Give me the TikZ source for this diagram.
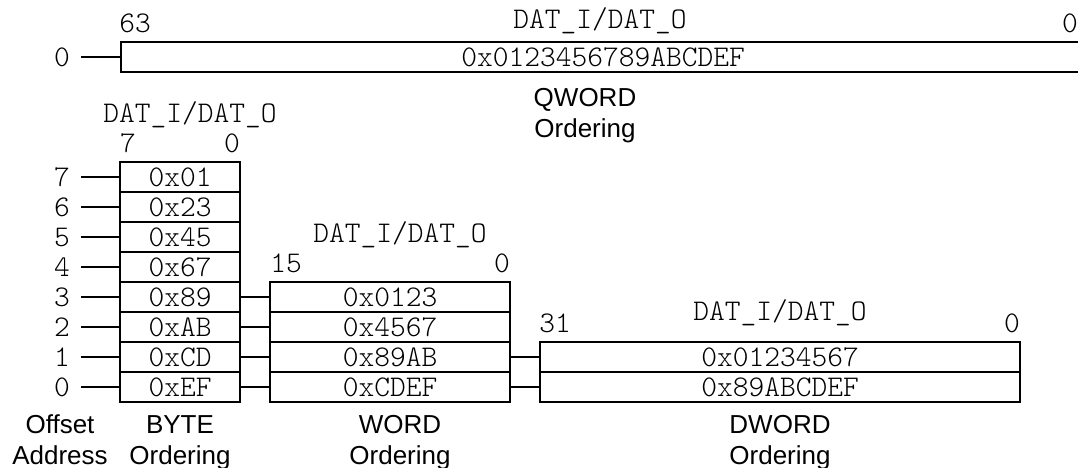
\documentclass[tikz,border=0pt]{standalone}
\usepackage{fontspec}
\setmainfont{Liberation Sans}
\newfontfamily\monof{Latin Modern Mono Light}
\begin{document}
\begin{tikzpicture}[x=1pt,y=-1pt,line width=2pt,
  cell/.style={draw,rectangle,inner sep=0pt,minimum height=30pt,font=\monof\fontsize{30}{30}\selectfont},
  mono/.style={inner sep=0pt,font=\monof\fontsize{30}{30}\selectfont},
  sans/.style={inner sep=0pt,align=center,anchor=base,font=\fontsize{26}{31}\selectfont},
  conn/.style={line width=2pt}]
\useasboundingbox (0,0) rectangle (1078,467);
\clip (0,0) rectangle (1078,467);
% QWORD
\node[mono,anchor=base] (qhi) at (135,32) {63};
\node[mono,anchor=base] (qlo) at (1070,32) {0};
\node[mono,anchor=base] (qhd) at (600,28) {DAT\_I/DAT\_O};
\node[cell,minimum width=1000pt,anchor=west] (q0) at (120,57) {\hphantom{x}};
\node[mono,anchor=center] (qt) at (603,57) {0x0123456789ABCDEF};
\node[mono] (qa0) at (62,57) {0};
\draw[conn] ([xshift=10pt]qa0.east) -- (q0.west);
\node[sans] (qlab) at (585,137) {QWORD\\Ordering};
% BYTE
\node[mono,anchor=base] (bhd) at (190,122) {DAT\_I/DAT\_O};
\node[mono,anchor=base] (bhi) at (128,152) {7};
\node[mono,anchor=base] (blo) at (232,152) {0};
\foreach \i/\v [evaluate=\i as \y using {177+30*(7-\i)}] in {7/01,6/23,5/45,4/67,3/89,2/AB,1/CD,0/EF}{
  \node[cell,minimum width=120pt] (b\i) at (180,\y) {0x\v};
  \node[mono] (a\i) at (62,\y) {\i};
  \draw[conn] ([xshift=10pt]a\i.east) -- (b\i.west);
}
\node[sans] (alab) at (60,464) {Offset\\Address};
\node[sans] (blab) at (180,464) {BYTE\\Ordering};
% WORD
\node[mono,anchor=base] (whd) at (400,242) {DAT\_I/DAT\_O};
\node[mono,anchor=base] (whi) at (286,272) {15};
\node[mono,anchor=base] (wlo) at (502,272) {0};
\foreach \i/\v [evaluate=\i as \y using {297+30*(3-\i)}] in {3/0123,2/4567,1/89AB,0/CDEF}{
  \node[cell,minimum width=240pt] (w\i) at (390,\y) {0x\v};
  \draw[conn] (b\i.east) -- (w\i.west);
}
\node[sans] (wlab) at (400,464) {WORD\\Ordering};
% DWORD
\node[mono,anchor=base] (dhd) at (780,320) {DAT\_I/DAT\_O};
\node[mono,anchor=base] (dhi) at (555,332) {31};
\node[mono,anchor=base] (dlo) at (1012,332) {0};
\foreach \i/\v [evaluate=\i as \y using {357+30*(1-\i)}] in {1/01234567,0/89ABCDEF}{
  \node[cell,minimum width=480pt] (d\i) at (780,\y) {0x\v};
  \draw[conn] (w\i.east) -- (d\i.west);
}
\node[sans] (dlab) at (780,464) {DWORD\\Ordering};
\end{tikzpicture}
\end{document}
